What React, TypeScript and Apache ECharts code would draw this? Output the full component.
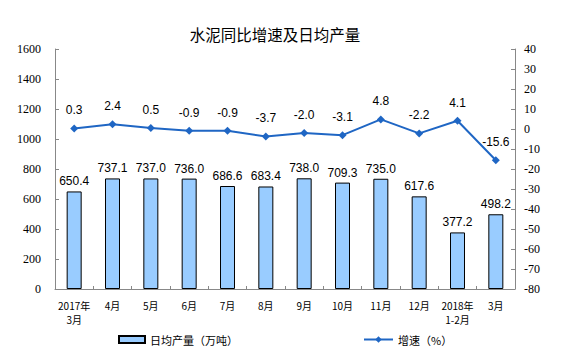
import React, { useEffect, useRef } from "react";
import * as echarts from "echarts";

const categories = ["2017年\n3月", "4月", "5月", "6月", "7月", "8月", "9月", "10月", "11月", "12月", "2018年\n1-2月", "3月"];
const dailyOutput = [650.4, 737.1, 737.0, 736.0, 686.6, 683.4, 738.0, 709.3, 735.0, 617.6, 377.2, 498.2];
const growthRate = [0.3, 2.4, 0.5, -0.9, -0.9, -3.7, -2.0, -3.1, 4.8, -2.2, 4.1, -15.6];
const titleText = "水泥同比增速及日均产量";
const barName = "日均产量（万吨）";
const lineName = "增速（%）";

export default function App() {
  const ref = useRef<HTMLDivElement>(null);
  useEffect(() => {
    if (!ref.current) return;
    const chart = echarts.init(ref.current, undefined, { renderer: "svg" });
    const axisLine = { show: true, lineStyle: { color: "#888", width: 1 } };
    chart.setOption({
      animation: false,
      backgroundColor: "#fff",
      title: {
        text: titleText,
        left: 270,
        textAlign: "center",
        top: 21,
        textStyle: { fontSize: 15.5, fontWeight: "normal", color: "#000", fontFamily: "Noto Sans CJK SC" },
      },
      grid: { left: 55, right: 59, top: 49, bottom: 68 },
      legend: [
        {
          data: [{ name: barName, icon: "rect" }],
          left: 113,
          top: 329,
          itemWidth: 26,
          itemHeight: 7,
          itemGap: 6,
          textStyle: { fontSize: 11, color: "#000", fontFamily: "Noto Sans CJK SC" },
        },
        {
          data: [{ name: lineName }],
          left: 358,
          top: 329,
          itemWidth: 29,
          itemHeight: 8,
          textStyle: { fontSize: 11, color: "#000", fontFamily: "Noto Sans CJK SC" },
        },
      ],
      xAxis: {
        type: "category",
        data: categories,
        axisLine,
        axisTick: { show: true, inside: true, length: 3, alignWithLabel: false, lineStyle: { color: "#888" } },
        axisLabel: { interval: 0, fontSize: 10, color: "#000", margin: 9, lineHeight: 14, fontFamily: "Noto Sans CJK SC" },
      },
      yAxis: [
        {
          type: "value",
          min: 0,
          max: 1600,
          interval: 200,
          axisLine,
          axisTick: { show: true, inside: true, length: 4, lineStyle: { color: "#888" } },
          splitLine: { show: false },
          axisLabel: { fontSize: 12, color: "#000", margin: 14, fontFamily: "Liberation Serif", formatter: (v: number) => String(v) },
        },
        {
          type: "value",
          min: -80,
          max: 40,
          interval: 10,
          axisLine,
          axisTick: { show: true, inside: true, length: 4, lineStyle: { color: "#888" } },
          splitLine: { show: false },
          axisLabel: { fontSize: 12, color: "#000", margin: 9, fontFamily: "Liberation Serif" },
        },
      ],
      series: [
        {
          name: barName,
          type: "bar",
          data: dailyOutput,
          barWidth: 15,
          itemStyle: { color: "#99CCFF", borderColor: "#000", borderWidth: 1 },
          label: {
            show: true,
            position: "top",
            distance: 4,
            formatter: (p: any) => Number(p.value).toFixed(1),
            fontSize: 12,
            color: "#000",
            fontFamily: "Liberation Sans",
          },
        },
        {
          name: lineName,
          type: "line",
          yAxisIndex: 1,
          data: growthRate,
          symbol: "diamond",
          symbolSize: 8,
          lineStyle: { color: "#1F66C4", width: 2 },
          itemStyle: { color: "#1F66C4" },
          label: {
            show: true,
            position: "top",
            distance: 8,
            formatter: (p: any) => Number(p.value).toFixed(1),
            fontSize: 12,
            color: "#000",
            fontFamily: "Liberation Sans",
          },
        },
      ],
    });
    return () => chart.dispose();
  }, []);
  return <div ref={ref} style={{ position: "fixed", left: 0, top: 0, width: 574, height: 357 }} />;
}
